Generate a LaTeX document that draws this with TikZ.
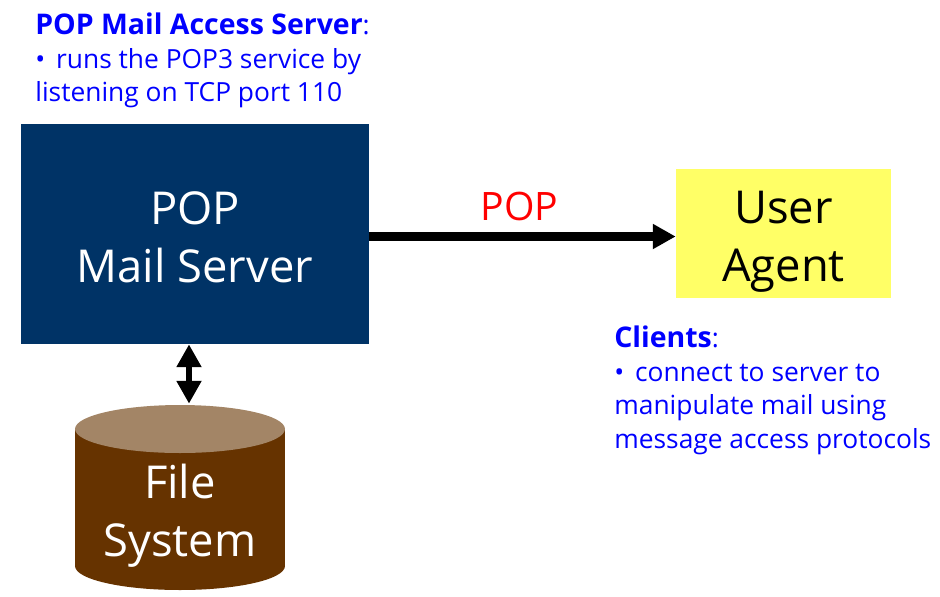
\documentclass[tikz,border=0pt]{standalone}
\usepackage{fontspec}
\setmainfont{Open Sans}
\usetikzlibrary{arrows.meta, calc, positioning, shapes.geometric}
\definecolor{servernavy}{RGB}{0,51,102}
\definecolor{agentyellow}{RGB}{255,255,102}
\definecolor{fsbrown}{RGB}{102,51,0}
\definecolor{fstop}{RGB}{163,133,102}
\definecolor{noteblue}{RGB}{0,0,255}
\newcommand{\notebullet}{•\hspace{2.3pt}\ }
\tikzset{
  boxtext/.style={font=\fontsize{25.8}{33}\selectfont, align=center, inner sep=0pt},
  notetext/.style={font=\fontsize{15}{19}\selectfont, text=noteblue, align=left, anchor=north west, inner sep=0pt},
  disc/.style={ellipse, inner sep=0pt, minimum width=4.2cm, minimum height=0.96cm},
}
\begin{document}
\begin{tikzpicture}[x=0.02cm, y=-0.02cm, >={Triangle[length=13pt, width=13.5pt]}]
  \useasboundingbox (0,0) rectangle (940,596);
  % server and user agent boxes
  \node[boxtext, fill=servernavy, text=white, minimum width=6.98cm, minimum height=4.4cm] (server) at (195,234) {\rule{0pt}{22pt}POP\\Mail Server};
  \node[boxtext, fill=agentyellow, text=black, minimum width=4.3cm, minimum height=2.58cm] (agent) at (783.5,233.5) {\rule{0pt}{27.5pt}User\\Agent};
  % file system: base disc, body, top disc
  \node[disc, fill=fsbrown] (filesbase) at (180,566) {};
  \fill[fsbrown] (180-105,429) rectangle (filesbase.east);
  \node[disc, fill=fstop] (filestop) at (180,429) {};
  \node[boxtext, text=white] (fileslabel) at (180,516) {File\\System};
  % connectors
  \draw[->, line width=4.6pt] ($(server.east |- agent.west)+(-1,3)$) -- ($(agent.west)+(0,3)$)
    node[midway, above=6.5pt, xshift=-1.7pt, font=\fontsize{22.3}{26}\selectfont, text=red, inner sep=0pt] (poplabel) {POP};
  \draw[<->, line width=3.6pt]
    ($(server.south)+(-6,0)$) -- ($(filestop.north)+(9,-1)$);
  % notes
  \node[notetext] (servernote) at (35,13) {{\fontsize{16.2}{19}\selectfont\textbf{POP Mail Access Server}}:\\\notebullet runs the POP3 service by\\listening on TCP port 110};
  \node[notetext] (clientnote) at (614,326) {{\fontsize{16.2}{19}\selectfont\textbf{Clients}}:\\\notebullet connect to server to\\manipulate mail using\\message access protocols};
\end{tikzpicture}
\end{document}
